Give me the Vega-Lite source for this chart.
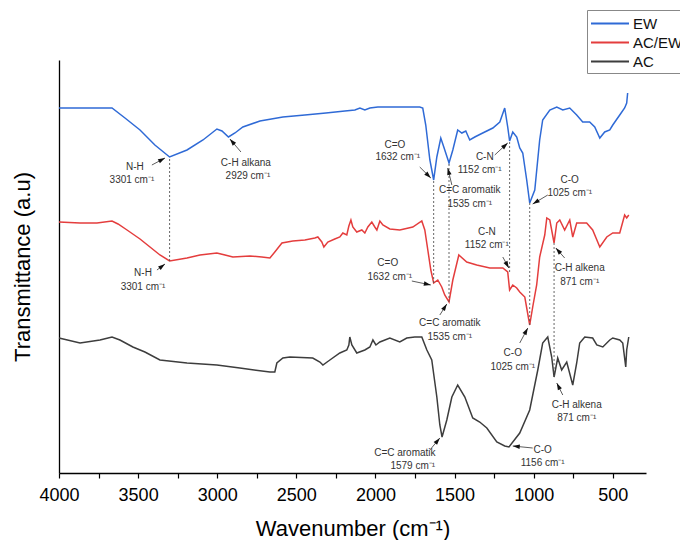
{
  "$schema": "https://vega.github.io/schema/vega-lite/v6.json",
  "autosize": "none",
  "padding": {"left": 59, "top": 60, "right": 34, "bottom": 67},
  "width": 587,
  "height": 413,
  "background": "white",
  "config": {
    "view": {"stroke": null},
    "font": "Liberation Sans"
  },
  "datasets": {
    "spectra": [
      {"s":"EW","wn":4000,"t":365},{"s":"EW","wn":3867,"t":365},{"s":"EW","wn":3665,"t":365},{"s":"EW","wn":3583,"t":355},{"s":"EW","wn":3488,"t":343},{"s":"EW","wn":3394,"t":328},{"s":"EW","wn":3301,"t":316},{"s":"EW","wn":3191,"t":323},{"s":"EW","wn":3090,"t":333},{"s":"EW","wn":3002,"t":344},{"s":"EW","wn":2970,"t":342},{"s":"EW","wn":2929,"t":336},{"s":"EW","wn":2888,"t":340},{"s":"EW","wn":2838,"t":346},{"s":"EW","wn":2730,"t":352},{"s":"EW","wn":2585,"t":356},{"s":"EW","wn":2446,"t":358},{"s":"EW","wn":2313,"t":360},{"s":"EW","wn":2193,"t":362},{"s":"EW","wn":2130,"t":363},{"s":"EW","wn":2098,"t":365},{"s":"EW","wn":2067,"t":363},{"s":"EW","wn":2035,"t":365},{"s":"EW","wn":1985,"t":366},{"s":"EW","wn":1909,"t":366},{"s":"EW","wn":1846,"t":366},{"s":"EW","wn":1783,"t":366},{"s":"EW","wn":1720,"t":366},{"s":"EW","wn":1701,"t":365},{"s":"EW","wn":1682,"t":348},{"s":"EW","wn":1656,"t":313},{"s":"EW","wn":1632,"t":293},{"s":"EW","wn":1612,"t":316},{"s":"EW","wn":1587,"t":335},{"s":"EW","wn":1568,"t":326},{"s":"EW","wn":1535,"t":310},{"s":"EW","wn":1511,"t":323},{"s":"EW","wn":1480,"t":343},{"s":"EW","wn":1454,"t":340},{"s":"EW","wn":1429,"t":342},{"s":"EW","wn":1404,"t":333},{"s":"EW","wn":1372,"t":336},{"s":"EW","wn":1322,"t":340},{"s":"EW","wn":1258,"t":345},{"s":"EW","wn":1214,"t":351},{"s":"EW","wn":1183,"t":365},{"s":"EW","wn":1164,"t":346},{"s":"EW","wn":1152,"t":332},{"s":"EW","wn":1132,"t":341},{"s":"EW","wn":1107,"t":336},{"s":"EW","wn":1088,"t":325},{"s":"EW","wn":1069,"t":320},{"s":"EW","wn":1044,"t":293},{"s":"EW","wn":1025,"t":270},{"s":"EW","wn":993,"t":283},{"s":"EW","wn":962,"t":333},{"s":"EW","wn":943,"t":353},{"s":"EW","wn":898,"t":363},{"s":"EW","wn":854,"t":366},{"s":"EW","wn":816,"t":363},{"s":"EW","wn":772,"t":365},{"s":"EW","wn":728,"t":358},{"s":"EW","wn":690,"t":351},{"s":"EW","wn":646,"t":351},{"s":"EW","wn":614,"t":346},{"s":"EW","wn":582,"t":335},{"s":"EW","wn":551,"t":341},{"s":"EW","wn":519,"t":343},{"s":"EW","wn":500,"t":348},{"s":"EW","wn":456,"t":358},{"s":"EW","wn":425,"t":365},{"s":"EW","wn":412,"t":370},{"s":"EW","wn":406,"t":380},
      {"s":"AC/EW","wn":4000,"t":251},{"s":"AC/EW","wn":3867,"t":250},{"s":"AC/EW","wn":3760,"t":250},{"s":"AC/EW","wn":3665,"t":252},{"s":"AC/EW","wn":3627,"t":249},{"s":"AC/EW","wn":3570,"t":243},{"s":"AC/EW","wn":3488,"t":234},{"s":"AC/EW","wn":3425,"t":226},{"s":"AC/EW","wn":3362,"t":218},{"s":"AC/EW","wn":3301,"t":212},{"s":"AC/EW","wn":3191,"t":215},{"s":"AC/EW","wn":3109,"t":218},{"s":"AC/EW","wn":3002,"t":220},{"s":"AC/EW","wn":2951,"t":218},{"s":"AC/EW","wn":2901,"t":216},{"s":"AC/EW","wn":2793,"t":217},{"s":"AC/EW","wn":2718,"t":216},{"s":"AC/EW","wn":2667,"t":215},{"s":"AC/EW","wn":2636,"t":221},{"s":"AC/EW","wn":2591,"t":230},{"s":"AC/EW","wn":2522,"t":232},{"s":"AC/EW","wn":2446,"t":233},{"s":"AC/EW","wn":2383,"t":235},{"s":"AC/EW","wn":2364,"t":236},{"s":"AC/EW","wn":2339,"t":231},{"s":"AC/EW","wn":2326,"t":226},{"s":"AC/EW","wn":2301,"t":231},{"s":"AC/EW","wn":2257,"t":234},{"s":"AC/EW","wn":2225,"t":236},{"s":"AC/EW","wn":2206,"t":240},{"s":"AC/EW","wn":2181,"t":238},{"s":"AC/EW","wn":2168,"t":247},{"s":"AC/EW","wn":2155,"t":253},{"s":"AC/EW","wn":2143,"t":246},{"s":"AC/EW","wn":2118,"t":241},{"s":"AC/EW","wn":2086,"t":243},{"s":"AC/EW","wn":2067,"t":240},{"s":"AC/EW","wn":2048,"t":246},{"s":"AC/EW","wn":2023,"t":251},{"s":"AC/EW","wn":2004,"t":246},{"s":"AC/EW","wn":1991,"t":243},{"s":"AC/EW","wn":1972,"t":252},{"s":"AC/EW","wn":1953,"t":248},{"s":"AC/EW","wn":1909,"t":244},{"s":"AC/EW","wn":1846,"t":243},{"s":"AC/EW","wn":1764,"t":246},{"s":"AC/EW","wn":1707,"t":252},{"s":"AC/EW","wn":1688,"t":243},{"s":"AC/EW","wn":1669,"t":223},{"s":"AC/EW","wn":1650,"t":203},{"s":"AC/EW","wn":1632,"t":190},{"s":"AC/EW","wn":1606,"t":193},{"s":"AC/EW","wn":1581,"t":186},{"s":"AC/EW","wn":1562,"t":178},{"s":"AC/EW","wn":1535,"t":171},{"s":"AC/EW","wn":1511,"t":193},{"s":"AC/EW","wn":1473,"t":218},{"s":"AC/EW","wn":1423,"t":211},{"s":"AC/EW","wn":1360,"t":208},{"s":"AC/EW","wn":1277,"t":205},{"s":"AC/EW","wn":1195,"t":205},{"s":"AC/EW","wn":1164,"t":201},{"s":"AC/EW","wn":1152,"t":183},{"s":"AC/EW","wn":1132,"t":188},{"s":"AC/EW","wn":1107,"t":185},{"s":"AC/EW","wn":1088,"t":181},{"s":"AC/EW","wn":1056,"t":176},{"s":"AC/EW","wn":1025,"t":148},{"s":"AC/EW","wn":1006,"t":166},{"s":"AC/EW","wn":981,"t":188},{"s":"AC/EW","wn":962,"t":216},{"s":"AC/EW","wn":930,"t":238},{"s":"AC/EW","wn":917,"t":255},{"s":"AC/EW","wn":898,"t":253},{"s":"AC/EW","wn":871,"t":230},{"s":"AC/EW","wn":854,"t":250},{"s":"AC/EW","wn":835,"t":253},{"s":"AC/EW","wn":804,"t":243},{"s":"AC/EW","wn":772,"t":253},{"s":"AC/EW","wn":753,"t":236},{"s":"AC/EW","wn":728,"t":250},{"s":"AC/EW","wn":665,"t":250},{"s":"AC/EW","wn":627,"t":243},{"s":"AC/EW","wn":582,"t":226},{"s":"AC/EW","wn":538,"t":236},{"s":"AC/EW","wn":500,"t":240},{"s":"AC/EW","wn":456,"t":240},{"s":"AC/EW","wn":425,"t":258},{"s":"AC/EW","wn":412,"t":255},{"s":"AC/EW","wn":399,"t":258},
      {"s":"AC","wn":4000,"t":135},{"s":"AC","wn":3867,"t":130},{"s":"AC","wn":3741,"t":133},{"s":"AC","wn":3665,"t":136},{"s":"AC","wn":3615,"t":133},{"s":"AC","wn":3533,"t":126},{"s":"AC","wn":3457,"t":121},{"s":"AC","wn":3362,"t":113},{"s":"AC","wn":3191,"t":110},{"s":"AC","wn":3002,"t":108},{"s":"AC","wn":2857,"t":105},{"s":"AC","wn":2667,"t":101},{"s":"AC","wn":2636,"t":101},{"s":"AC","wn":2623,"t":110},{"s":"AC","wn":2585,"t":115},{"s":"AC","wn":2541,"t":116},{"s":"AC","wn":2396,"t":115},{"s":"AC","wn":2351,"t":111},{"s":"AC","wn":2332,"t":108},{"s":"AC","wn":2288,"t":113},{"s":"AC","wn":2225,"t":120},{"s":"AC","wn":2181,"t":123},{"s":"AC","wn":2168,"t":128},{"s":"AC","wn":2162,"t":136},{"s":"AC","wn":2149,"t":128},{"s":"AC","wn":2118,"t":120},{"s":"AC","wn":2067,"t":123},{"s":"AC","wn":2035,"t":126},{"s":"AC","wn":2016,"t":133},{"s":"AC","wn":1997,"t":128},{"s":"AC","wn":1972,"t":131},{"s":"AC","wn":1909,"t":135},{"s":"AC","wn":1846,"t":131},{"s":"AC","wn":1802,"t":135},{"s":"AC","wn":1751,"t":136},{"s":"AC","wn":1707,"t":136},{"s":"AC","wn":1675,"t":123},{"s":"AC","wn":1644,"t":113},{"s":"AC","wn":1612,"t":76},{"s":"AC","wn":1593,"t":48},{"s":"AC","wn":1579,"t":36},{"s":"AC","wn":1549,"t":53},{"s":"AC","wn":1517,"t":76},{"s":"AC","wn":1480,"t":88},{"s":"AC","wn":1435,"t":76},{"s":"AC","wn":1385,"t":55},{"s":"AC","wn":1341,"t":51},{"s":"AC","wn":1296,"t":45},{"s":"AC","wn":1233,"t":31},{"s":"AC","wn":1183,"t":27},{"s":"AC","wn":1156,"t":26},{"s":"AC","wn":1088,"t":40},{"s":"AC","wn":1025,"t":63},{"s":"AC","wn":974,"t":103},{"s":"AC","wn":943,"t":130},{"s":"AC","wn":911,"t":136},{"s":"AC","wn":886,"t":116},{"s":"AC","wn":871,"t":96},{"s":"AC","wn":848,"t":115},{"s":"AC","wn":823,"t":103},{"s":"AC","wn":791,"t":111},{"s":"AC","wn":753,"t":88},{"s":"AC","wn":728,"t":110},{"s":"AC","wn":709,"t":130},{"s":"AC","wn":677,"t":136},{"s":"AC","wn":627,"t":135},{"s":"AC","wn":601,"t":128},{"s":"AC","wn":563,"t":126},{"s":"AC","wn":519,"t":133},{"s":"AC","wn":500,"t":135},{"s":"AC","wn":456,"t":133},{"s":"AC","wn":437,"t":130},{"s":"AC","wn":418,"t":106},{"s":"AC","wn":412,"t":123},{"s":"AC","wn":399,"t":136}
    ],
    "dashes": [
      {"wn":3301,"t":212,"t2":316},
      {"wn":1632,"t":190,"t2":293},
      {"wn":1535,"t":171,"t2":310},
      {"wn":1152,"t":201,"t2":332},
      {"wn":1025,"t":148,"t2":270},
      {"wn":871,"t":96,"t2":230}
    ],
    "arrows": [
      {"tx":3413,"ty":308,"wn":3330,"t":315},
      {"tx":2850,"ty":321,"wn":2920,"t":334},
      {"tx":1720,"ty":306,"wn":1650,"t":295},
      {"tx":1517,"ty":288,"wn":1543,"t":305},
      {"tx":1246,"ty":318,"wn":1164,"t":330},
      {"tx":911,"ty":278,"wn":1006,"t":269},
      {"tx":3381,"ty":203,"wn":3330,"t":209},
      {"tx":1770,"ty":192,"wn":1650,"t":188},
      {"tx":1593,"ty":158,"wn":1549,"t":169},
      {"tx":1195,"ty":216,"wn":1157,"t":205},
      {"tx":1088,"ty":130,"wn":1037,"t":145},
      {"tx":804,"ty":215,"wn":860,"t":225},
      {"tx":1656,"ty":23,"wn":1593,"t":35},
      {"tx":1006,"ty":25,"wn":1132,"t":27},
      {"tx":816,"ty":78,"wn":854,"t":90}
    ],
    "labels": [
      {"wn":3520,"t":306,"text":"N-H"},{"wn":3539,"t":293,"text":"3301 cm⁻¹"},
      {"wn":2819,"t":310,"text":"C-H alkana"},{"wn":2806,"t":297,"text":"2929 cm⁻¹"},
      {"wn":1877,"t":328,"text":"C=O"},{"wn":1859,"t":316,"text":"1632 cm⁻¹"},
      {"wn":1404,"t":283,"text":"C=C aromatik"},{"wn":1404,"t":269,"text":"1535 cm⁻¹"},
      {"wn":1309,"t":316,"text":"C-N"},{"wn":1341,"t":303,"text":"1152 cm⁻¹"},
      {"wn":772,"t":293,"text":"C-O"},{"wn":772,"t":280,"text":"1025 cm⁻¹"},
      {"wn":3469,"t":200,"text":"N-H"},{"wn":3469,"t":186,"text":"3301 cm⁻¹"},
      {"wn":1922,"t":210,"text":"C=O"},{"wn":1909,"t":196,"text":"1632 cm⁻¹"},
      {"wn":1530,"t":150,"text":"C=C aromatik"},{"wn":1530,"t":136,"text":"1535 cm⁻¹"},
      {"wn":1296,"t":241,"text":"C-N"},{"wn":1296,"t":228,"text":"1152 cm⁻¹"},
      {"wn":1132,"t":120,"text":"C-O"},{"wn":1132,"t":106,"text":"1025 cm⁻¹"},
      {"wn":709,"t":205,"text":"C-H alkena"},{"wn":709,"t":191,"text":"871 cm⁻¹"},
      {"wn":1814,"t":20,"text":"C=C aromatik"},{"wn":1764,"t":7,"text":"1579 cm⁻¹"},
      {"wn":943,"t":23,"text":"C-O"},{"wn":943,"t":10,"text":"1156 cm⁻¹"},
      {"wn":728,"t":68,"text":"C-H alkena"},{"wn":728,"t":55,"text":"871 cm⁻¹"}
    ]
  },
  "encoding": {
    "x": {
      "field": "wn", "type": "quantitative",
      "scale": {"domain": [4000, 290], "nice": false, "zero": false},
      "axis": {
        "title": "Wavenumber (cm⁻¹)",
        "values": [4000,3750,3500,3250,3000,2750,2500,2250,2000,1750,1500,1250,1000,750,500],
        "labelExpr": "datum.value % 500 === 0 ? datum.label : ''",
        "format": "d",
        "grid": false,
        "domainColor": "#000", "domainWidth": 1.3,
        "tickColor": "#000", "tickSize": 5, "tickWidth": 1.2,
        "labelFontSize": 18, "labelColor": "#000", "labelPadding": 8, "labelFont": "Liberation Sans", "labelFlush": false, "labelOverlap": false,
        "titleFontSize": 22, "titleFontWeight": "normal", "titleColor": "#000", "titlePadding": 14, "titleFont": "Liberation Sans"
      }
    },
    "y": {
      "field": "t", "type": "quantitative",
      "scale": {"domain": [0, 413], "nice": false, "zero": false},
      "axis": {
        "title": "Transmittance (a.u)",
        "ticks": false, "labels": false, "grid": false,
        "domainColor": "#000", "domainWidth": 1.3,
        "titleFontSize": 22, "titleFontWeight": "normal", "titleColor": "#000", "titlePadding": 25, "titleFont": "Liberation Sans"
      }
    }
  },
  "layer": [
    {
      "data": {"name": "spectra"},
      "mark": {"type": "line", "strokeWidth": 1.5, "interpolate": "linear"},
      "encoding": {
        "color": {
          "field": "s", "type": "nominal",
          "scale": {"domain": ["EW", "AC/EW", "AC"], "range": ["#2f6ad6", "#e43d3d", "#3d3d3d"]},
          "legend": {
            "orient": "none", "legendX": 528, "legendY": -50,
            "title": null,
            "symbolType": "M-1,0L3,0", "symbolSize": 361, "symbolStrokeWidth": 2, "symbolFillColor": "transparent",
            "labelFontSize": 15, "labelFont": "Liberation Sans", "labelColor": "#111", "labelOffset": 22,
            "strokeColor": "#888", "fillColor": "white", "padding": 3, "rowPadding": 0
          }
        }
      }
    },
    {
      "data": {"name": "dashes"},
      "mark": {"type": "rule", "strokeDash": [2, 2], "color": "#555", "strokeWidth": 0.9},
      "encoding": {
        "y2": {"field": "t2"}
      }
    },
    {
      "data": {"name": "arrows"},
      "mark": {"type": "rule", "color": "#333", "strokeWidth": 0.8},
      "encoding": {
        "x2": {"field": "tx"},
        "y2": {"field": "ty"}
      }
    },
    {
      "data": {"name": "arrows"},
      "transform": [
        {"calculate": "atan2(-(datum.wn - datum.tx) * 0.1583, (datum.t - datum.ty)) * 180 / PI", "as": "ang"}
      ],
      "mark": {"type": "point", "shape": "M0,0L0.32,1L-0.32,1Z", "filled": true, "color": "#111", "opacity": 1, "size": 196},
      "encoding": {
        "angle": {"field": "ang", "type": "quantitative", "scale": null}
      }
    },
    {
      "data": {"name": "labels"},
      "mark": {"type": "text", "fontSize": 10, "font": "Liberation Sans", "color": "#333", "align": "center", "baseline": "middle"},
      "encoding": {
        "text": {"field": "text", "type": "nominal"}
      }
    }
  ]
}
